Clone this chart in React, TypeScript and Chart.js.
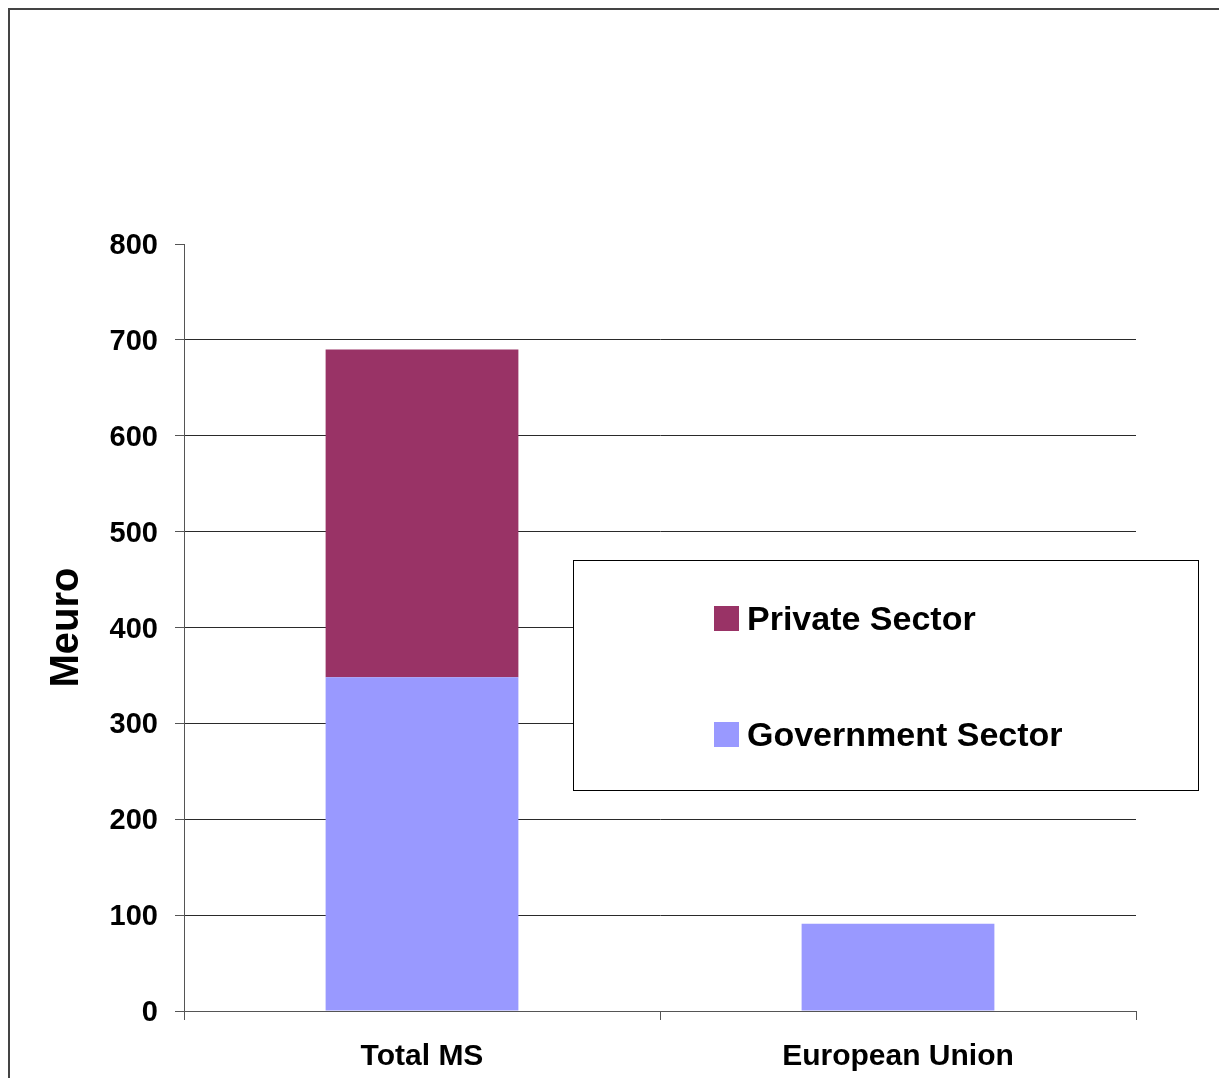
import React, { useEffect, useRef } from "react";
import { Chart, registerables } from "chart.js";

Chart.register(...registerables);

const categories = ["Total MS", "European Union"];
const governmentSector = [348, 91];
const privateSector = [342, null];
const yTicks = [0, 100, 200, 300, 400, 500, 600, 700, 800];
const seriesLabels = ["Government Sector", "Private Sector"];
const seriesColors = ["#9999FF", "#993366"];
const yTitle = "Meuro";

const FONT = "'Liberation Sans', Arial, sans-serif";

const legendPlugin = {
  id: "boxLegend",
  afterDraw(chart: any) {
    const ctx = chart.ctx;
    const bx = 573, by = 560, bw = 626, bh = 231;
    ctx.save();
    ctx.fillStyle = "#ffffff";
    ctx.fillRect(bx, by, bw, bh);
    ctx.strokeStyle = "#000000";
    ctx.lineWidth = 1;
    ctx.strokeRect(bx + 0.5, by + 0.5, bw - 1, bh - 1);
    const ds = chart.data.datasets.slice().reverse();
    const rowY = [618, 734];
    ds.forEach((d: any, i: number) => {
      const cy = rowY[i];
      ctx.fillStyle = d.backgroundColor;
      ctx.fillRect(714, cy - 12, 25, 25);
      ctx.fillStyle = "#000000";
      ctx.font = `bold 34px ${FONT}`;
      ctx.textAlign = "left";
      ctx.textBaseline = "middle";
      ctx.fillText(d.label, 747, cy + 3);
    });
    ctx.restore();
  },
};

export default function App() {
  const ref = useRef<HTMLCanvasElement | null>(null);

  useEffect(() => {
    if (!ref.current) return;
    const chart = new Chart(ref.current, {
      type: "bar",
      data: {
        labels: categories,
        datasets: [
          {
            label: seriesLabels[0],
            data: governmentSector,
            backgroundColor: seriesColors[0],
            borderWidth: 0,
            categoryPercentage: 1,
            barPercentage: 0.405,
          },
          {
            label: seriesLabels[1],
            data: privateSector as any,
            backgroundColor: seriesColors[1],
            borderWidth: 0,
            categoryPercentage: 1,
            barPercentage: 0.405,
          },
        ],
      },
      options: {
        responsive: false,
        animation: false,
        devicePixelRatio: 1,
        layout: { padding: { left: 0, top: 244, right: 83, bottom: 0 } },
        plugins: {
          legend: { display: false },
          tooltip: { enabled: false },
          title: { display: false },
        },
        scales: {
          x: {
            stacked: true,
            offset: true,
            grid: {
              offset: true,
              drawOnChartArea: false,
              drawTicks: true,
              tickLength: 9,
              tickColor: "#555555",
            },
            border: { display: true, color: "#555555", width: 1 },
            ticks: {
              color: "#000000",
              padding: 19,
              font: { family: FONT, size: 30, weight: "bold", lineHeight: 1.2 },
            },
            afterFit(scale: any) {
              scale.height = 67;
            },
          },
          y: {
            stacked: true,
            min: yTicks[0],
            max: yTicks[yTicks.length - 1],
            afterBuildTicks(scale: any) {
              scale.ticks = yTicks.map((v) => ({ value: v }));
            },
            grid: {
              color: (c: any) =>
                c.tick && c.tick.value === yTicks[yTicks.length - 1] ? "rgba(0,0,0,0)" : "#2a2a2a",
              tickColor: "#555555",
              tickLength: 9,
              lineWidth: 1,
            },
            border: { display: true, color: "#555555", width: 1 },
            ticks: {
              color: "#000000",
              padding: 17,
              labelOffset: 2,
              font: { family: FONT, size: 29, weight: "bold", lineHeight: 1.2 },
            },
            title: {
              display: true,
              text: yTitle,
              color: "#000000",
              padding: { top: 43, bottom: 0 },
              font: { family: FONT, size: 40, weight: "bold", lineHeight: 1.2 },
            },
            afterFit(scale: any) {
              scale.width = 184;
            },
          },
        },
      },
      plugins: [legendPlugin],
    } as any);
    return () => chart.destroy();
  }, []);

  return (
    <div
      style={{
        position: "fixed",
        left: 0,
        top: 0,
        width: 1219,
        height: 1078,
        overflow: "hidden",
        background: "#ffffff",
      }}
    >
      <div
        style={{
          position: "absolute",
          left: 8,
          top: 8,
          width: 1400,
          height: 1300,
          borderLeft: "2px solid #444444",
          borderTop: "2px solid #444444",
        }}
      />
      <canvas
        ref={ref}
        width={1219}
        height={1078}
        style={{ position: "absolute", left: 0, top: 0, width: 1219, height: 1078 }}
      />
    </div>
  );
}
